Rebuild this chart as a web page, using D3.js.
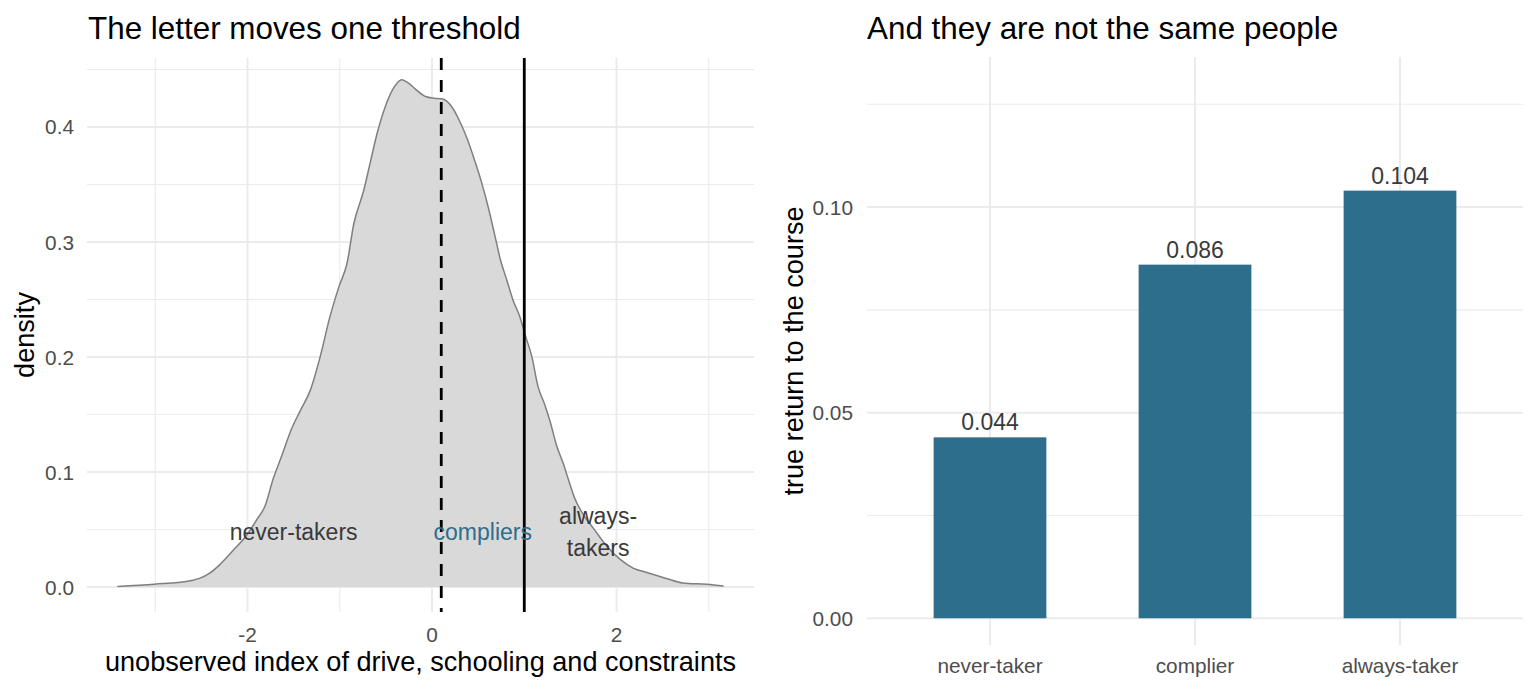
<!DOCTYPE html>
<html>
<head>
<meta charset="utf-8">
<script src="https://cdn.jsdelivr.net/npm/d3@7"></script>
<style>
  html, body { margin: 0; padding: 0; background: #fff; }
  svg { display: block; }
  text { font-family: "Liberation Sans", Arial, sans-serif; }
</style>
</head>
<body>
<svg id="chart" width="1536" height="691"></svg>
<script>
// ---------- Data ----------
// Left panel: density of the unobserved index
const densityX = [-3.41, -3.01, -2.59, -2.52, -2.41, -2.30, -2.16, -2.01, -1.90, -1.81, -1.72, -1.63, -1.52, -1.43, -1.32, -1.21, -1.11, -1.01, -0.92, -0.85, -0.74, -0.67, -0.60, -0.51, -0.43, -0.38, -0.33, -0.27, -0.18, -0.07, 0.02, 0.105, 0.21, 0.30, 0.38, 0.47, 0.54, 0.61, 0.68, 0.74, 0.81, 0.88, 0.95, 1.01, 1.08, 1.15, 1.22, 1.28, 1.35, 1.42, 1.48, 1.55, 1.64, 1.75, 1.89, 2.04, 2.18, 2.33, 2.54, 2.72, 2.98, 3.16];
const densityY = [0.0005, 0.0024, 0.006, 0.0075, 0.012, 0.0195, 0.0315, 0.045, 0.0585, 0.0705, 0.0945, 0.114, 0.138, 0.153, 0.171, 0.201, 0.234, 0.261, 0.282, 0.315, 0.345, 0.369, 0.393, 0.417, 0.432, 0.438, 0.441, 0.439, 0.433, 0.4265, 0.425, 0.4245, 0.418, 0.405, 0.39, 0.369, 0.351, 0.330, 0.306, 0.285, 0.267, 0.249, 0.2355, 0.219, 0.201, 0.174, 0.159, 0.144, 0.123, 0.108, 0.093, 0.0765, 0.063, 0.051, 0.036, 0.024, 0.0165, 0.0126, 0.0075, 0.0036, 0.0024, 0.0009];
const thresholdLetter = 0.1;   // dashed
const thresholdBase = 1.0;     // solid
const leftXTicks = [-2, 0, 2];
const leftXTickLabels = ["-2", "0", "2"];
const leftXMinor = [-3, -1, 1, 3];
const leftYTicks = [0, 0.1, 0.2, 0.3, 0.4];
const leftYMinor = [0.05, 0.15, 0.25, 0.35, 0.45];
const groupLabels = ["never-takers", "compliers", ["always-", "takers"]];
const groupLabelX = [-1.5, 0.55, 1.8];
const groupLabelY = [0.048, 0.048, 0.048];

// Right panel: true return by type
const types = ["never-taker", "complier", "always-taker"];
const returns = [0.044, 0.086, 0.104];
const rightYTicks = [0, 0.05, 0.10];
const rightYMinor = [0.025, 0.075, 0.125];

// ---------- Styles ----------
const gridCol = "#ebebeb";
const tickCol = "#4d4d4d";
const barCol = "#2d6e8d";
const labelCol = "#3a3a3a";

const svg = d3.select("#chart");

// ---------- Left panel ----------
const L = { left: 87, right: 754, top: 58, bottom: 612 };
const xL = d3.scaleLinear().domain([-3.74, 3.49]).range([L.left, L.right]);
const yL = d3.scaleLinear().domain([-0.0217, 0.46]).range([L.bottom, L.top]);

const gL = svg.append("g");
// grid
gL.selectAll(".yminor").data(leftYMinor).join("line")
  .attr("x1", L.left).attr("x2", L.right)
  .attr("y1", d => yL(d)).attr("y2", d => yL(d))
  .attr("stroke", gridCol).attr("stroke-width", 1.1);
gL.selectAll(".xminor").data(leftXMinor).join("line")
  .attr("y1", L.top).attr("y2", L.bottom)
  .attr("x1", d => xL(d)).attr("x2", d => xL(d))
  .attr("stroke", gridCol).attr("stroke-width", 1.1);
gL.selectAll(".ymajor").data(leftYTicks).join("line")
  .attr("x1", L.left).attr("x2", L.right)
  .attr("y1", d => yL(d)).attr("y2", d => yL(d))
  .attr("stroke", gridCol).attr("stroke-width", 2);
gL.selectAll(".xmajor").data(leftXTicks).join("line")
  .attr("y1", L.top).attr("y2", L.bottom)
  .attr("x1", d => xL(d)).attr("x2", d => xL(d))
  .attr("stroke", gridCol).attr("stroke-width", 2);

const dens = densityX.map((x, i) => ({ x, y: densityY[i] }));
const area = d3.area().x(d => xL(d.x)).y0(yL(0)).y1(d => yL(d.y)).curve(d3.curveMonotoneX);
const line = d3.line().x(d => xL(d.x)).y(d => yL(d.y)).curve(d3.curveMonotoneX);
gL.append("path").datum(dens).attr("d", area).attr("fill", "#d9d9d9");
gL.append("path").datum(dens).attr("d", line).attr("fill", "none")
  .attr("stroke", "#7f7f7f").attr("stroke-width", 1.5);

// threshold lines
gL.append("line")
  .attr("x1", xL(thresholdLetter)).attr("x2", xL(thresholdLetter))
  .attr("y1", L.top).attr("y2", L.bottom)
  .attr("stroke", "#000").attr("stroke-width", 2.8)
  .attr("stroke-dasharray", "12,10");
gL.append("line")
  .attr("x1", xL(thresholdBase)).attr("x2", xL(thresholdBase))
  .attr("y1", L.top).attr("y2", L.bottom)
  .attr("stroke", "#000").attr("stroke-width", 2.8);

// group labels
groupLabels.forEach((lab, i) => {
  const t = gL.append("text")
    .attr("x", xL(groupLabelX[i]))
    .attr("y", yL(groupLabelY[i]))
    .attr("text-anchor", "middle")
    .attr("font-size", 23)
    .attr("fill", i === 1 ? barCol : labelCol);
  if (Array.isArray(lab)) {
    const n = lab.length;
    lab.forEach((s, j) => {
      t.append("tspan").attr("x", xL(groupLabelX[i]))
        .attr("y", yL(groupLabelY[i]) + 8 + (j - (n - 1) / 2) * 32)
        .text(s);
    });
  } else {
    t.attr("dy", 8).text(lab);
  }
});

// axes labels
gL.selectAll(".xt").data(leftXTicks).join("text")
  .attr("x", d => xL(d)).attr("y", 642)
  .attr("text-anchor", "middle").attr("font-size", 20.8).attr("fill", tickCol)
  .text((d, i) => leftXTickLabels[i]);
gL.selectAll(".yt").data(leftYTicks).join("text")
  .attr("x", 74).attr("y", d => yL(d)).attr("dy", "0.36em")
  .attr("text-anchor", "end").attr("font-size", 20.8).attr("fill", tickCol)
  .text(d => d3.format(".1f")(d));
gL.append("text").attr("x", (L.left + L.right) / 2).attr("y", 671)
  .attr("text-anchor", "middle").attr("font-size", 27.1).attr("fill", "#000")
  .text("unobserved index of drive, schooling and constraints");
gL.append("text").attr("transform", `translate(33.5,${(L.top + L.bottom) / 2}) rotate(-90)`)
  .attr("text-anchor", "middle").attr("font-size", 27.1).attr("fill", "#000")
  .text("density");
gL.append("text").attr("x", 88).attr("y", 39)
  .attr("font-size", 31.4).attr("fill", "#000")
  .text("The letter moves one threshold");

// ---------- Right panel ----------
const R = { left: 867, right: 1523, top: 57, bottom: 645 };
const xR = d3.scalePoint().domain(types).range([R.left, R.right]).padding(0.6);
const yR = d3.scaleLinear().domain([-0.0065, 0.1365]).range([R.bottom, R.top]);
const barW = xR.step() * 0.55;

const gR = svg.append("g");
gR.selectAll(".yminor").data(rightYMinor).join("line")
  .attr("x1", R.left).attr("x2", R.right)
  .attr("y1", d => yR(d)).attr("y2", d => yR(d))
  .attr("stroke", gridCol).attr("stroke-width", 1.1);
gR.selectAll(".ymajor").data(rightYTicks).join("line")
  .attr("x1", R.left).attr("x2", R.right)
  .attr("y1", d => yR(d)).attr("y2", d => yR(d))
  .attr("stroke", gridCol).attr("stroke-width", 2);
gR.selectAll(".xmajor").data(types).join("line")
  .attr("y1", R.top).attr("y2", R.bottom)
  .attr("x1", d => xR(d)).attr("x2", d => xR(d))
  .attr("stroke", gridCol).attr("stroke-width", 2);

gR.selectAll(".bar").data(types).join("rect")
  .attr("x", d => xR(d) - barW / 2)
  .attr("width", barW)
  .attr("y", (d, i) => yR(returns[i]))
  .attr("height", (d, i) => yR(0) - yR(returns[i]))
  .attr("fill", barCol);
gR.selectAll(".val").data(types).join("text")
  .attr("x", d => xR(d))
  .attr("y", (d, i) => yR(returns[i]) - 7)
  .attr("text-anchor", "middle").attr("font-size", 23).attr("fill", labelCol)
  .text((d, i) => d3.format(".3f")(returns[i]));

gR.selectAll(".xt").data(types).join("text")
  .attr("x", d => xR(d)).attr("y", 673)
  .attr("text-anchor", "middle").attr("font-size", 20.8).attr("fill", tickCol)
  .text(d => d);
gR.selectAll(".yt").data(rightYTicks).join("text")
  .attr("x", 853).attr("y", d => yR(d)).attr("dy", "0.36em")
  .attr("text-anchor", "end").attr("font-size", 20.8).attr("fill", tickCol)
  .text(d => d3.format(".2f")(d));
gR.append("text").attr("transform", `translate(803,${(R.top + R.bottom) / 2}) rotate(-90)`)
  .attr("text-anchor", "middle").attr("font-size", 27.1).attr("fill", "#000")
  .text("true return to the course");
gR.append("text").attr("x", 867).attr("y", 39)
  .attr("font-size", 31.4).attr("fill", "#000")
  .text("And they are not the same people");
</script>
</body>
</html>
